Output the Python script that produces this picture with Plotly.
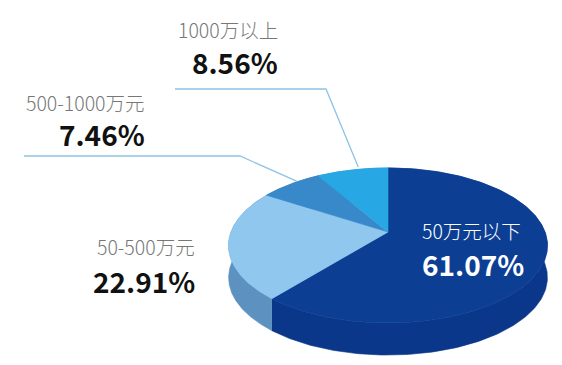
import numpy as np
import plotly.graph_objects as go

# ---- data ----
categories = ["50万元以下", "50-500万元", "500-1000万元", "1000万以上"]
values = [61.07, 22.91, 7.46, 8.56]
top_colors = ["#0c3f94", "#8fc7ee", "#3789ca", "#27a8e5"]
side_colors = ["#0a378a", "#5d92c0", "#2a6fa8", "#1d88bd"]
label_colors = ["#ffffff", "#777777", "#777777", "#777777"]
pct_colors = ["#ffffff", "#111111", "#111111", "#111111"]

# ---- pie geometry (pixel space, perspective ellipse) ----
CX, CY = 388.0, 232.0     # apex (projected circle centre)
R, S, K = 157.0, 75.2, 0.174
DEPTH = 32.0


def proj(theta_deg):
    t = np.radians(theta_deg)
    u, v = np.sin(t), np.cos(t)
    w = 1 + K * v
    return CX + R * u / w, CY - S * v / w


fig = go.Figure()

total = sum(values)
starts = np.concatenate([[0], np.cumsum(values)[:-1]]) / total * 360
ends = np.cumsum(values) / total * 360

# sides first
for i in range(len(values)):
    th = np.linspace(starts[i], ends[i], 200)
    x, y = proj(th)
    xs = np.concatenate([x, x[::-1]])
    ys = np.concatenate([y, (y + DEPTH)[::-1]])
    fig.add_trace(go.Scatter(x=xs, y=ys, fill="toself", mode="lines",
                             fillcolor=side_colors[i],
                             line=dict(color=side_colors[i], width=0.6),
                             hoverinfo="skip", showlegend=False))

# top faces
for i in range(len(values)):
    th = np.linspace(starts[i], ends[i], 200)
    x, y = proj(th)
    xs = np.concatenate([[CX], x, [CX]])
    ys = np.concatenate([[CY], y, [CY]])
    fig.add_trace(go.Scatter(x=xs, y=ys, fill="toself", mode="lines",
                             fillcolor=top_colors[i],
                             line=dict(color=top_colors[i], width=0.6),
                             name=categories[i], hoverinfo="name",
                             showlegend=False))

# leader lines for the small slices
line_color = "#8dc3e6"
elbows = {3: (326, 89, 175), 2: (240, 156, 24)}
for i, (ex, ey, x0) in elbows.items():
    mid = (starts[i] + ends[i]) / 2
    mx, my = proj(mid)
    fig.add_trace(go.Scatter(x=[x0, ex, mx + 6], y=[ey, ey, my - 3], mode="lines",
                             line=dict(color=line_color, width=1.3),
                             hoverinfo="skip", showlegend=False))

# labels
FONT = "Noto Sans CJK SC"
label_pos = {
    0: (420, 230, 264, "left"),
    1: (197, 246, 281, "right"),
    2: (147, 102, 134, "right"),
    3: (280, 29, 62, "right"),
}
for i, (ax, ly, py, anchor) in label_pos.items():
    fig.add_annotation(x=ax, y=ly, text=categories[i], showarrow=False,
                       xanchor=anchor, yanchor="middle", xref="x", yref="y",
                       font=dict(family=FONT, size=19.5, color=label_colors[i], weight=300))
    fig.add_annotation(x=ax, y=py, text=f"<b>{values[i]:.2f}%</b>", showarrow=False,
                       xanchor=anchor, yanchor="middle", xref="x", yref="y",
                       font=dict(family=FONT, size=28, color=pct_colors[i]))

# page body has an 8px margin: map axis units straight to page pixels
fig.update_layout(
    width=554, height=357,
    margin=dict(l=0, r=0, t=0, b=0),
    paper_bgcolor="white", plot_bgcolor="white",
    xaxis=dict(range=[8, 562], visible=False, fixedrange=True),
    yaxis=dict(range=[365, 8], visible=False, fixedrange=True),
)

fig.write_html("out.html")
